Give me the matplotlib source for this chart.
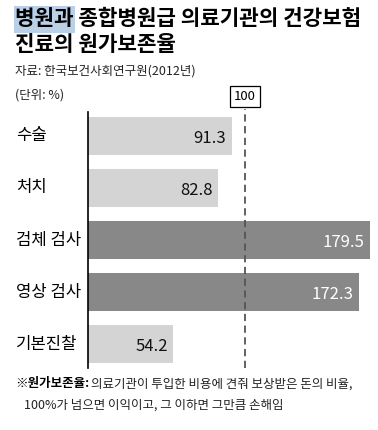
import numpy as np
import matplotlib
matplotlib.use("Agg")
from matplotlib import pyplot as plt
from matplotlib.patches import Rectangle
from matplotlib.transforms import blended_transform_factory

plt.rcParams['font.family'] = ['Noto Sans CJK KR', 'DejaVu Sans']

categories = ["수술", "처치", "검체 검사", "영상 검사", "기본진찰"]
values = [91.3, 82.8, 179.5, 172.3, 54.2]
above = [False, False, True, True, False]
ref_value = 100

title = "병원과 종합병원급 의료기관의 건강보험\n진료의 원가보존율"
source = "자료: 한국보건사회연구원(2012년)"
unit = "(단위: %)"
note1 = "의료기관이 투입한 비용에 견줘 보상받은 돈의 비율,"
note2 = "100%가 넘으면 이익이고, 그 이하면 그만큼 손해임"

light = "#d4d4d4"
dark = "#888888"

W, H = 378, 430
fig = plt.figure(figsize=(W / 100, H / 100), dpi=100)

def fx(px):
    return px / W

def fy(py):
    return 1 - py / H

# highlight behind first word of title
fig.patches.append(Rectangle((fx(14), fy(33)), fx(61), 27 / H,
                             transform=fig.transFigure, facecolor="#b9d0e6",
                             edgecolor="none", zorder=0))
fig.text(fx(15), fy(8), title, fontsize=15.3, fontweight="bold", va="top",
         ha="left", linespacing=1.3)
fig.text(fx(15), fy(71), source, fontsize=9, va="center", color="#222222")
fig.text(fx(15), fy(95), unit, fontsize=9, va="center", color="#222222")

ax_left, ax_top, ax_bot = 88, 112, 368
xmax = 180
scale = 1.572
ax = fig.add_axes([fx(ax_left), fy(ax_bot), fx(xmax * scale), (ax_bot - ax_top) / H])

y = np.arange(len(categories))
colors = [dark if a else light for a in above]
ax.barh(y, values, height=0.72, color=colors, zorder=1)
ax.set_xlim(0, xmax)
ax.set_ylim(len(categories) - 0.54, -0.46)

label_tr = blended_transform_factory(fig.transFigure, ax.transData)
for i, (v, a) in enumerate(zip(values, above)):
    ax.text(v - 3.5, i + 0.05, f"{v:.1f}", ha="right", va="center", fontsize=12,
            color="white" if a else "#111111", zorder=3)
    fig.text(fx(16), i, categories[i], fontsize=12, va="center", ha="left",
             transform=label_tr)

ax.axvline(ref_value, ymin=0, ymax=1.01, color="#555555", linestyle=(0, (4, 2.5)),
           linewidth=1.3, clip_on=False, zorder=2)
ax.text(ref_value, 1.035, "100", transform=ax.get_xaxis_transform(), ha="center",
        va="bottom", fontsize=9.5,
        bbox=dict(boxstyle="square,pad=0.3", facecolor="white", edgecolor="black",
                  linewidth=0.9))

for s in ["top", "right", "bottom"]:
    ax.spines[s].set_visible(False)
ax.spines["left"].set_linewidth(1.2)
ax.set_xticks([])
ax.set_yticks([])

fig.text(fx(15), fy(384), "※원가보존율:", fontsize=9, fontweight="bold", va="center")
fig.text(fx(91), fy(384), note1, fontsize=9, va="center", color="#222222")
fig.text(fx(24), fy(405), note2, fontsize=9, va="center", color="#222222")

fig.savefig("out.png", dpi=100, facecolor="white")
